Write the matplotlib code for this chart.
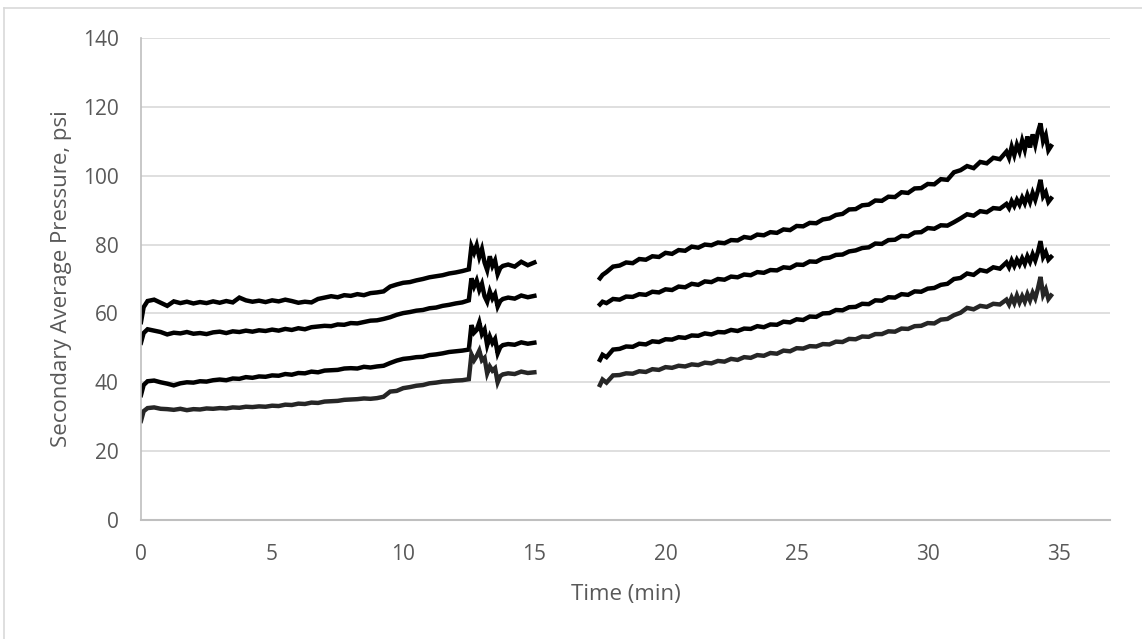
import numpy as np
import matplotlib.pyplot as plt
from matplotlib.lines import Line2D

# tiempos (min) de cada tramo
t1 = [0, 0.1, 0.25, 0.5, 0.75, 1.0, 1.25, 1.5, 1.75, 2.0,
      2.25, 2.5, 2.75, 3.0, 3.25, 3.5, 3.75, 4.0, 4.25, 4.5,
      4.75, 5.0, 5.25, 5.5, 5.75, 6.0, 6.25, 6.5, 6.75, 7.0,
      7.25, 7.5, 7.75, 8.0, 8.25, 8.5, 8.75, 9.0, 9.25, 9.5,
      9.75, 10.0, 10.25, 10.5, 10.75, 11.0, 11.25, 11.5, 11.75, 12.0,
      12.25, 12.5, 12.6, 12.7, 12.8, 12.9, 13.0, 13.1, 13.2, 13.3,
      13.4, 13.5, 13.6, 13.7, 13.8, 14.0, 14.25, 14.5, 14.75, 15.0]

t2 = [17.5, 17.6, 17.75, 18.0, 18.25, 18.5, 18.75, 19.0, 19.25, 19.5,
      19.75, 20.0, 20.25, 20.5, 20.75, 21.0, 21.25, 21.5, 21.75, 22.0,
      22.25, 22.5, 22.75, 23.0, 23.25, 23.5, 23.75, 24.0, 24.25, 24.5,
      24.75, 25.0, 25.25, 25.5, 25.75, 26.0, 26.25, 26.5, 26.75, 27.0,
      27.25, 27.5, 27.75, 28.0, 28.25, 28.5, 28.75, 29.0, 29.25, 29.5,
      29.75, 30.0, 30.25, 30.5, 30.75, 31.0, 31.25, 31.5, 31.75, 32.0,
      32.25, 32.5, 32.75, 33.0, 33.1, 33.2, 33.3, 33.4, 33.5, 33.6,
      33.7, 33.8, 33.9, 34.0, 34.1, 34.2, 34.3, 34.4, 34.5, 34.6,
      34.7]

# presion promedio secundaria (psi), tramo 1
p1_a = [57.5, 61.8, 63.6, 64.0, 63.1, 62.2, 63.5, 63.0, 63.4, 62.9,
        63.3, 63.0, 63.5, 63.1, 63.6, 63.2, 64.6, 63.8, 63.4, 63.7,
        63.3, 63.8, 63.5, 64.0, 63.6, 63.1, 63.4, 63.2, 64.2, 64.6,
        65.0, 64.7, 65.3, 65.1, 65.6, 65.3, 65.9, 66.1, 66.4, 67.8,
        68.4, 68.9, 69.1, 69.6, 70.0, 70.5, 70.8, 71.1, 71.6, 71.9,
        72.3, 72.8, 79.5, 77.6, 79.8, 76.4, 78.7, 74.8, 72.6, 76.6,
        73.8, 75.4, 71.4, 73.2, 73.8, 74.2, 73.6, 75.0, 74.0, 74.8]
p1_b = [51.5, 54.3, 55.4, 55.0, 54.6, 53.9, 54.4, 54.2, 54.6, 54.1,
        54.3, 54.0, 54.5, 54.7, 54.3, 54.8, 54.6, 55.0, 54.7, 55.1,
        54.9, 55.3, 55.0, 55.5, 55.2, 55.7, 55.4, 56.0, 56.2, 56.4,
        56.3, 56.8, 56.7, 57.2, 57.1, 57.5, 57.9, 58.0, 58.4, 58.9,
        59.6, 60.1, 60.4, 60.8, 61.0, 61.5, 61.7, 62.2, 62.5, 62.9,
        63.2, 63.8, 70.2, 67.8, 69.6, 66.8, 68.6, 65.0, 63.4, 66.4,
        64.3, 65.6, 62.0, 63.6, 64.2, 64.6, 64.3, 65.2, 64.7, 65.1]
p1_c = [36.3, 39.2, 40.3, 40.5, 40.0, 39.6, 39.1, 39.7, 40.0, 39.9,
        40.3, 40.2, 40.6, 40.8, 40.6, 41.1, 41.0, 41.5, 41.3, 41.7,
        41.6, 42.0, 41.9, 42.4, 42.2, 42.7, 42.6, 43.1, 42.9, 43.4,
        43.5, 43.6, 44.0, 44.1, 44.0, 44.5, 44.3, 44.6, 44.8, 45.6,
        46.3, 46.8, 47.0, 47.3, 47.4, 47.9, 48.1, 48.4, 48.8, 49.0,
        49.2, 49.5, 56.6, 54.4, 55.2, 57.4, 54.0, 55.3, 50.8, 53.3,
        51.4, 52.6, 48.4, 50.2, 50.8, 51.1, 50.9, 51.6, 51.2, 51.5]
p1_d = [28.8, 31.6, 32.5, 32.7, 32.3, 32.2, 32.0, 32.3, 31.9, 32.2,
        32.1, 32.4, 32.3, 32.5, 32.4, 32.7, 32.6, 32.9, 32.8, 33.0,
        32.9, 33.2, 33.1, 33.5, 33.4, 33.8, 33.7, 34.1, 34.0, 34.4,
        34.5, 34.6, 34.9, 35.0, 35.1, 35.3, 35.2, 35.4, 35.8, 37.3,
        37.5, 38.3, 38.6, 39.0, 39.2, 39.7, 39.9, 40.2, 40.3, 40.5,
        40.6, 40.9, 48.1, 46.4, 47.6, 49.2, 46.4, 47.1, 42.6, 44.6,
        43.4, 44.1, 40.0, 41.8, 42.3, 42.6, 42.4, 43.1, 42.7, 42.9]

# tramo 2
p2_a = [70.2, 71.2, 72.0, 73.6, 73.9, 74.8, 74.6, 75.8, 75.6, 76.6,
        76.4, 77.6, 77.3, 78.4, 78.2, 79.4, 79.1, 80.0, 79.8, 80.6,
        80.4, 81.3, 81.2, 82.2, 81.9, 82.9, 82.7, 83.6, 83.4, 84.4,
        84.2, 85.4, 85.3, 86.3, 86.2, 87.3, 87.6, 88.6, 88.9, 90.2,
        90.3, 91.4, 91.6, 92.8, 92.7, 93.9, 93.8, 95.2, 95.0, 96.3,
        96.4, 97.6, 97.5, 99.0, 98.8, 101.0, 101.6, 102.8, 102.2, 104.0,
        103.6, 105.2, 104.8, 107.0, 105.2, 108.4, 106.0, 109.0, 107.0, 110.2,
        107.6, 111.4, 108.2, 112.0, 109.0, 112.6, 115.2, 110.0, 111.8, 107.4,
        108.6]
p2_b = [62.6, 63.4, 63.0, 64.2, 64.0, 64.9, 64.8, 65.6, 65.4, 66.3,
        66.1, 67.0, 66.8, 67.8, 67.6, 68.6, 68.3, 69.3, 69.1, 70.0,
        69.8, 70.7, 70.5, 71.3, 71.1, 72.0, 71.8, 72.6, 72.5, 73.4,
        73.2, 74.2, 74.1, 75.1, 75.0, 76.0, 76.2, 77.0, 77.1, 78.0,
        78.3, 79.0, 79.2, 80.3, 80.2, 81.3, 81.4, 82.5, 82.4, 83.5,
        83.6, 84.8, 84.6, 85.6, 85.5, 86.5, 87.6, 88.8, 88.4, 89.7,
        89.4, 90.6, 90.4, 91.8, 90.6, 92.6, 91.2, 93.0, 91.6, 93.6,
        92.0, 94.4, 92.4, 95.0, 93.0, 95.6, 98.8, 94.0, 95.2, 92.4,
        93.4]
p2_c = [46.5, 48.0, 47.3, 49.5, 49.7, 50.4, 50.3, 51.2, 51.0, 51.9,
        51.7, 52.5, 52.4, 53.1, 52.9, 53.6, 53.5, 54.2, 53.9, 54.6,
        54.5, 55.2, 54.9, 55.6, 55.5, 56.3, 56.0, 56.8, 56.7, 57.6,
        57.4, 58.3, 58.1, 59.1, 59.0, 60.0, 60.1, 61.0, 60.9, 61.8,
        61.9, 62.8, 62.7, 63.8, 63.7, 64.7, 64.6, 65.6, 65.4, 66.4,
        66.3, 67.2, 67.4, 68.3, 68.6, 70.0, 70.3, 71.6, 71.2, 72.6,
        72.2, 73.4, 73.0, 74.8, 73.4, 75.4, 73.8, 75.6, 74.2, 76.0,
        74.4, 76.6, 75.0, 77.2, 75.4, 77.8, 81.0, 76.4, 77.8, 75.6,
        76.4]
p2_d = [39.2, 40.8, 39.9, 42.0, 42.1, 42.6, 42.5, 43.2, 43.0, 43.8,
        43.6, 44.4, 44.2, 44.8, 44.6, 45.2, 45.0, 45.7, 45.5, 46.2,
        46.0, 46.8, 46.5, 47.3, 47.1, 47.9, 47.7, 48.5, 48.3, 49.2,
        49.0, 49.9, 49.8, 50.5, 50.4, 51.1, 51.0, 51.8, 51.7, 52.6,
        52.5, 53.3, 53.2, 54.0, 54.0, 54.8, 54.7, 55.6, 55.5, 56.3,
        56.4, 57.2, 57.1, 58.2, 58.4, 59.5, 60.2, 61.6, 61.2, 62.2,
        61.9, 62.8, 62.6, 64.0, 62.6, 64.6, 63.0, 65.2, 63.2, 65.0,
        63.4, 65.6, 63.8, 66.0, 64.4, 67.2, 70.6, 65.4, 67.0, 64.2,
        65.2]

series = [(p1_a, p2_a, "black"), (p1_b, p2_b, "black"),
          (p1_c, p2_c, "black"), (p1_d, p2_d, "#262626")]

fig = plt.figure(figsize=(11.42, 6.39), dpi=100)
ax = fig.add_axes([141 / 1142, 1 - 520 / 639, (1110 - 141) / 1142, (520 - 38) / 639])

for s1, s2, col in series:
    ax.plot(t1, s1, color=col, lw=3.2, solid_joinstyle="miter")
    ax.plot(t2, s2, color=col, lw=3.2, solid_joinstyle="miter")

ax.set_xlim(0, 36.95)
ax.set_ylim(0, 140)
ax.set_xticks(np.arange(0, 36, 5))
ax.set_yticks(np.arange(0, 141, 20))
ax.grid(axis="y", color="#d9d9d9", lw=1.2)
ax.set_axisbelow(True)
for lado in ["top", "right"]:
    ax.spines[lado].set_visible(False)
ax.spines["left"].set_color("#bfbfbf")
ax.spines["bottom"].set_color("#bfbfbf")
ax.spines["left"].set_linewidth(1.2)
ax.spines["bottom"].set_linewidth(1.5)
ax.tick_params(length=0, labelsize=15, labelcolor="#595959")
ax.tick_params(axis="x", pad=17)
ax.tick_params(axis="y", pad=16)
for lab in ax.get_xticklabels() + ax.get_yticklabels():
    lab.set_fontfamily("Open Sans")

ax.set_xlabel("Time (min)", fontsize=16, color="#595959", family="Open Sans", labelpad=14)
ax.set_ylabel("Secondary Average Pressure, psi", fontsize=16, color="#595959",
              family="Open Sans", labelpad=8)

# borde del grafico
fig.add_artist(Line2D([4 / 1142, 1], [1 - 7.5 / 639, 1 - 7.5 / 639], color="#d9d9d9", lw=1.2))
fig.add_artist(Line2D([4 / 1142, 4 / 1142], [0, 1 - 7.5 / 639], color="#d9d9d9", lw=1.2))

fig.savefig("out.png", dpi=100)
